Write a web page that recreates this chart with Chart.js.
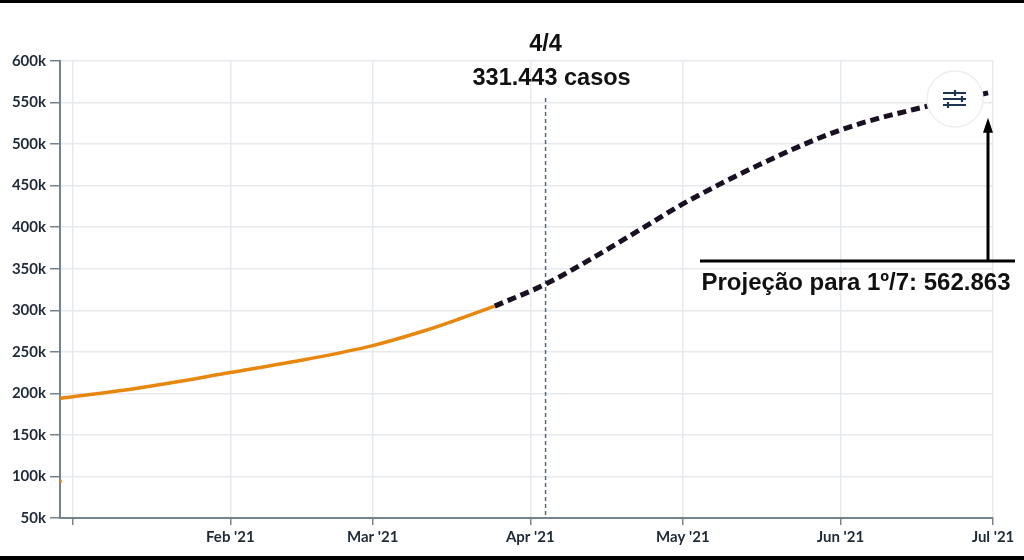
<!DOCTYPE html>
<html>
<head>
<meta charset="utf-8">
<script src="https://cdn.jsdelivr.net/npm/chart.js@4"></script>
<style>
  html, body { margin: 0; padding: 0; background: #fff; }
  #wrap { position: relative; width: 1024px; height: 560px; }
  .bar { position: absolute; left: 0; width: 1024px; background: #000; }
</style>
</head>
<body>
<div id="wrap">
  <canvas id="chart"></canvas>
  <div class="bar" style="top:0;height:3px"></div>
  <div class="bar" style="bottom:0;height:4px"></div>
</div>
<script>
// days counted from 1 Jan 2021
const monthDays = [0, 31, 59, 90, 120, 151, 181];
const monthLabels = ['', "Feb '21", "Mar '21", "Apr '21", "May '21", "Jun '21", "Jul '21"];

const actualDays = [-2.5, 13, 31, 46, 59, 69, 76, 83];
const actualCases = [194000, 206500, 225000, 241000, 257500, 275000, 289500, 305000];

const projDays = [83, 93, 102, 112, 120, 135, 151, 168, 181];
const projCases = [305000, 331443, 362000, 398500, 428000, 475000, 517000, 545500, 562863];

const strayDays = [-2.5];
const strayCases = [94000];

const markerDay = 93;
const markerLines = ['4/4', '331.443 casos'];
const projText = 'Projeção para 1º/7: 562.863';

const toPoints = (xs, ys) => xs.map((x, k) => ({ x: x, y: ys[k] }));

const axisColor = '#75838f';
const gridColor = '#e6e9ed';
const tickFont = { family: 'Lato', size: 15, weight: 'bold' };

// vertical marker, annotations and the settings button
const overlay = {
  id: 'overlay',
  beforeDatasetsDraw(chart) {
    const c = chart.ctx, xs = chart.scales.x, area = chart.chartArea;
    const mx = xs.getPixelForValue(markerDay);
    c.save();
    c.strokeStyle = '#556677';
    c.lineWidth = 1.5;
    c.setLineDash([4, 3]);
    c.beginPath();
    c.moveTo(mx, 98);
    c.lineTo(mx, area.bottom);
    c.stroke();
    c.restore();
  },
  afterDatasetsDraw(chart) {
    const c = chart.ctx, xs = chart.scales.x, ys = chart.scales.y;
    const mx = xs.getPixelForValue(markerDay);
    c.save();
    c.fillStyle = '#111';
    c.textAlign = 'center';
    c.textBaseline = 'middle';
    c.font = 'bold 23.5px "Liberation Sans", Arial, sans-serif';
    c.fillText(markerLines[0], mx, 45);
    c.fillText(markerLines[1], mx + 6, 79);

    // settings button
    c.beginPath();
    c.arc(955, 99, 28, 0, Math.PI * 2);
    c.fillStyle = '#fff';
    c.fill();
    c.strokeStyle = '#eceef1';
    c.lineWidth = 1.5;
    c.stroke();
    c.strokeStyle = '#1d3550';
    c.lineWidth = 2.2;
    [[93, 955], [99, 962], [105, 948]].forEach(([y, k]) => {
      c.beginPath();
      c.moveTo(943, y); c.lineTo(966, y);
      c.moveTo(k, y - 3); c.lineTo(k, y + 3);
      c.stroke();
    });

    // projection note with arrow
    const lastX = xs.getPixelForValue(projDays[projDays.length - 1]) - 5;
    const tipY = ys.getPixelForValue(projCases[projCases.length - 1]) + 26;
    c.strokeStyle = '#000';
    c.fillStyle = '#000';
    c.lineWidth = 3;
    c.beginPath();
    c.moveTo(700, 261); c.lineTo(1015, 261);
    c.moveTo(lastX, 261); c.lineTo(lastX, tipY + 12);
    c.stroke();
    c.beginPath();
    c.moveTo(lastX, tipY);
    c.lineTo(lastX - 5, tipY + 15);
    c.lineTo(lastX + 5, tipY + 15);
    c.closePath();
    c.fill();
    c.fillStyle = '#111';
    c.font = 'bold 24px "Liberation Sans", Arial, sans-serif';
    c.fillText(projText, 856, 283);
    c.restore();
  }
};

new Chart(document.getElementById('chart'), {
  type: 'line',
  data: {
    datasets: [{
      label: 'Casos',
      data: toPoints(actualDays, actualCases),
      borderColor: '#e8870e',
      borderWidth: 3.5,
      cubicInterpolationMode: 'monotone',
      pointRadius: 0
    }, {
      label: 'Projeção',
      data: toPoints(projDays, projCases),
      borderColor: '#1a1024',
      borderWidth: 5,
      borderDash: [9, 5],
      cubicInterpolationMode: 'monotone',
      pointRadius: 0
    }, {
      label: 'ponto',
      data: toPoints(strayDays, strayCases),
      showLine: false,
      pointRadius: 2,
      pointBackgroundColor: '#e8870e',
      pointBorderWidth: 0
    }]
  },
  options: {
    responsive: true,
    maintainAspectRatio: false,
    animation: false,
    layout: { padding: { top: 61, right: 31, left: 0, bottom: 0 } },
    plugins: { legend: { display: false }, tooltip: { enabled: false } },
    scales: {
      x: {
        type: 'linear',
        min: -2.5,
        max: 181,
        afterBuildTicks: s => { s.ticks = monthDays.map(v => ({ value: v })); },
        afterFit: s => { s.height = 42; },
        ticks: {
          autoSkip: false,
          maxRotation: 0,
          padding: 3,
          color: '#1f2a37',
          font: tickFont,
          callback: v => monthLabels[monthDays.indexOf(v)]
        },
        grid: { color: gridColor, lineWidth: 1.5, tickLength: 7, tickColor: axisColor },
        border: { color: axisColor, width: 2 }
      },
      y: {
        min: 50000,
        max: 600000,
        afterFit: s => { s.width = 60; },
        ticks: {
          stepSize: 50000,
          padding: 4,
          color: '#1f2a37',
          font: tickFont,
          callback: v => (v / 1000) + 'k'
        },
        grid: { color: gridColor, lineWidth: 1.5, tickLength: 10, tickColor: axisColor },
        border: { color: axisColor, width: 2 }
      }
    }
  },
  plugins: [overlay]
});
</script>
</body>
</html>
